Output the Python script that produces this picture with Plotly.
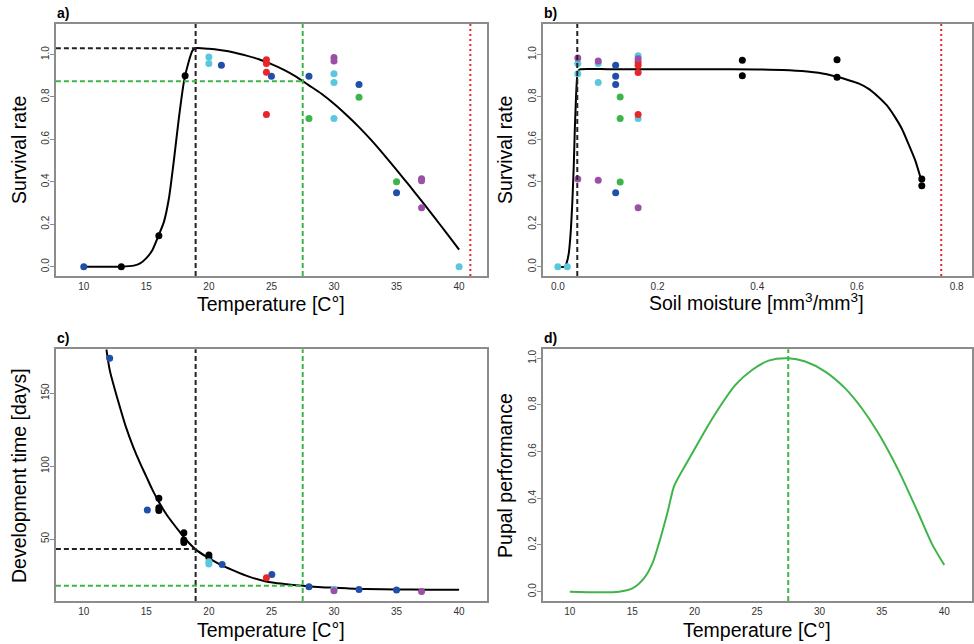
import plotly.graph_objects as go

# ---------------- DATA ----------------
COLORS = {"k": "#000000", "b": "#1F4FA8", "c": "#5AC8DC", "r": "#E8262A",
          "g": "#3DB54A", "p": "#9C4FA6"}

# Panel a: survival vs temperature
a_x = [13, 16, 18.1, 10, 21, 25, 28, 32, 35, 20, 20, 30, 30, 30, 40,
       24.6, 24.6, 24.6, 24.6, 28, 32, 35, 30, 30, 37, 37, 37]
a_y = [0, 0.146, 0.90, 0, 0.95, 0.898, 0.898, 0.859, 0.349, 0.989, 0.958, 0.909, 0.868, 0.699, 0,
       0.976, 0.958, 0.917, 0.717, 0.699, 0.799, 0.40, 0.986, 0.969, 0.414, 0.405, 0.278]
a_c = ["k", "k", "k", "b", "b", "b", "b", "b", "b", "c", "c", "c", "c", "c", "c",
       "r", "r", "r", "r", "g", "g", "g", "p", "p", "p", "p", "p"]
a_curve_x = [10, 13, 14, 14.5, 15, 15.5, 16, 16.4, 16.8, 17.2, 17.6, 18, 18.4, 18.7, 18.94,
             20, 21, 22, 23, 24, 25, 26, 27, 27.5, 28, 29, 30, 31, 32, 33, 34, 35, 36, 37, 38, 39, 40]
a_curve_y = [0, 0, 0.005, 0.015, 0.04, 0.08, 0.15, 0.21, 0.32, 0.50, 0.70, 0.87, 0.97, 1.02, 1.03,
             1.027, 1.02, 1.01, 0.995, 0.978, 0.955, 0.928, 0.895, 0.875, 0.855, 0.815, 0.768, 0.715,
             0.658, 0.595, 0.527, 0.456, 0.384, 0.31, 0.235, 0.158, 0.08]

# Panel b: survival vs soil moisture
b_x = [0.0, 0.019, 0.04, 0.04, 0.04, 0.04, 0.081, 0.081, 0.081, 0.081,
       0.116, 0.116, 0.116, 0.116, 0.125, 0.125, 0.125,
       0.161, 0.161, 0.161, 0.161, 0.161, 0.161, 0.161, 0.161,
       0.37, 0.37, 0.56, 0.56, 0.73, 0.73]
b_y = [0, 0, 0.984, 0.958, 0.91, 0.413, 0.969, 0.958, 0.868, 0.407,
       0.95, 0.898, 0.859, 0.349, 0.80, 0.699, 0.399,
       0.994, 0.98, 0.965, 0.95, 0.915, 0.717, 0.699, 0.278,
       0.973, 0.90, 0.975, 0.893, 0.413, 0.381]
b_c = ["c", "c", "p", "c", "c", "p", "p", "c", "c", "p",
       "b", "b", "b", "b", "g", "g", "g",
       "c", "p", "r", "r", "r", "r", "c", "p",
       "k", "k", "k", "k", "k", "k"]
b_curve_x = [0, 0.014, 0.018, 0.022, 0.026, 0.029, 0.032, 0.034, 0.0365, 0.0387, 0.0415, 0.045,
             0.1, 0.2, 0.3, 0.4, 0.45, 0.5, 0.523, 0.56, 0.585, 0.603, 0.625, 0.643, 0.66,
             0.676, 0.69, 0.703, 0.717, 0.73]
b_curve_y = [0, 0, 0.02, 0.064, 0.17, 0.30, 0.48, 0.644, 0.80, 0.895, 0.925, 0.931,
             0.931, 0.931, 0.931, 0.93, 0.927, 0.92, 0.914, 0.895, 0.878, 0.864, 0.836, 0.80, 0.76,
             0.706, 0.65, 0.58, 0.50, 0.40]

# Panel c: development time vs temperature
c_x = [12.07, 15.08, 21.06, 25.03, 28, 32, 35,
       16, 16, 16, 18, 18, 18, 20, 20,
       20, 20, 30, 24.6, 30, 37]
c_y = [174, 69.9, 32.6, 25.7, 17.3, 15.4, 15.0,
       77.9, 71.5, 69.5, 54.3, 49.3, 47.7, 39.0, 37.4,
       34.4, 32.8, 15.6, 23.5, 14.5, 14.1]
c_c = ["b", "b", "b", "b", "b", "b", "b",
       "k", "k", "k", "k", "k", "k", "k", "k",
       "c", "c", "c", "r", "p", "p"]
c_curve_x = [11.81, 12.07, 12.5, 12.87, 13.4, 13.94, 14.5, 15, 15.5, 16.06, 16.6, 17.13, 17.7,
             18.19, 18.94, 19.79, 20.8, 21.9, 23.2, 24.57, 26, 27.5, 29, 30, 31, 32.55, 35, 37.5, 40]
c_curve_y = [180, 166, 152, 141, 126, 113.4, 102, 92.8, 83.5, 74.5, 67, 60.8, 54.5,
             49.3, 42.9, 37.9, 33, 28.7, 24.2, 20.9, 19.2, 18.0, 17.0, 16.6, 16.2, 15.7, 15.4, 15.25, 15.2]

# Panel d: pupal performance vs temperature
d_x = [10, 13.94, 15.01, 15.94, 16.61, 17.14, 17.81, 18.34, 18.74, 19.81, 20.87, 21.94, 23.27,
       24.6, 25.93, 27.5, 28.86, 30.46, 32.06, 33.39, 34.72, 36.32, 37.92, 38.99, 40]
d_y = [0, 0, 0.014, 0.057, 0.12, 0.207, 0.336, 0.45, 0.493, 0.593, 0.693, 0.786, 0.886,
       0.95, 0.99, 1.0, 0.986, 0.943, 0.871, 0.786, 0.679, 0.521, 0.336, 0.207, 0.114]

# thresholds
T_low, T_opt, T_max = 18.94, 27.5, 40.9
S_low, S_max = 0.039, 0.769
surv_low, surv_opt = 1.03, 0.874
dev_low, dev_opt = 43.1, 18.0

x_ticks_T = [10, 15, 20, 25, 30, 35, 40]
x_ticks_S = [0.0, 0.2, 0.4, 0.6, 0.8]
y_ticks_surv = [0.0, 0.2, 0.4, 0.6, 0.8, 1.0]
y_ticks_dev = [50, 100, 150]

# ---------------- FIGURE ----------------
W, H = 974, 644
FONT = "Liberation Sans, Arial, sans-serif"
fig = go.Figure()

def px(v):
    return v / W

def py(v):
    return 1 - v / H

panels = {
    1: dict(xd=[px(56), px(488)], yd=[py(276), py(24)], xr=[7.77, 42.23], yr=[-0.044, 1.144],
            xt=x_ticks_T, yt=y_ticks_surv, yfmt=".1f", xfmt="d"),
    2: dict(xd=[px(543.7), 1.0], yd=[py(276), py(24)], xr=[-0.0306, 0.8307], yr=[-0.044, 1.144],
            xt=x_ticks_S, yt=y_ticks_surv, yfmt=".1f", xfmt=".1f"),
    3: dict(xd=[px(56), px(488)], yd=[py(601), py(349.3)], xr=[7.77, 42.23], yr=[7.5, 180.1],
            xt=x_ticks_T, yt=y_ticks_dev, yfmt="d", xfmt="d"),
    4: dict(xd=[px(543.7), 1.0], yd=[py(601), py(349.3)], xr=[7.82, 42.22], yr=[-0.04, 1.0386],
            xt=x_ticks_T, yt=y_ticks_surv, yfmt=".1f", xfmt="d"),
}

for i, p in panels.items():
    s = "" if i == 1 else str(i)
    fig.layout["xaxis" + s] = dict(domain=p["xd"], range=p["xr"], anchor="y" + s,
                                   tickvals=p["xt"], tickformat=p["xfmt"],
                                   showgrid=False, zeroline=False, showline=True, mirror=True,
                                   linecolor="#8c8c8c", linewidth=1.5, ticks="",
                                   tickfont=dict(size=10, color="#333333", family=FONT))
    fig.layout["yaxis" + s] = dict(domain=p["yd"], range=p["yr"], anchor="x" + s,
                                   tickvals=p["yt"], tickformat=p["yfmt"], tickangle=-90,
                                   showgrid=False, zeroline=False, showline=True, mirror=True,
                                   linecolor="#8c8c8c", linewidth=1.5, ticks="outside",
                                   ticklen=4, tickcolor="#8c8c8c",
                                   tickfont=dict(size=10, color="#333333", family=FONT))

try:
    fig.update_yaxes(ticklabelstandoff=-3)
except Exception:
    pass

def add_points(xs, ys, cs, ax):
    for key in ["k", "b", "c", "r", "g", "p"]:
        xx = [x for x, c in zip(xs, cs) if c == key]
        yy = [y for y, c in zip(ys, cs) if c == key]
        if xx:
            fig.add_trace(go.Scatter(x=xx, y=yy, mode="markers", xaxis="x" + ax, yaxis="y" + ax,
                                     marker=dict(color=COLORS[key], size=7), showlegend=False))

def add_curve(xs, ys, ax, color="black", smooth=0.8):
    fig.add_trace(go.Scatter(x=xs, y=ys, mode="lines", xaxis="x" + ax, yaxis="y" + ax,
                             line=dict(color=color, width=2, shape="spline", smoothing=smooth),
                             showlegend=False))

DASH = "5px,3px"
GREEN = "#3DB54A"

def vline(x, ax, color, dash=DASH):
    s = "" if ax == "" else ax
    fig.add_shape(type="line", x0=x, x1=x, y0=0, y1=1, xref="x" + s, yref="y" + s + " domain",
                  line=dict(color=color, width=2, dash=dash))

def hline(y, xend, ax, color):
    s = "" if ax == "" else ax
    xstart = fig.layout["xaxis" + s].range[0]
    fig.add_shape(type="line", x0=xstart, x1=xend, y0=y, y1=y, xref="x" + s, yref="y" + s,
                  line=dict(color=color, width=2, dash=DASH))

# panel a
add_curve(a_curve_x, a_curve_y, "", smooth=0.6)
add_points(a_x, a_y, a_c, "")
vline(T_low, "", "#222222")
vline(T_opt, "", GREEN)
vline(T_max, "", "#E8262A", dash="2px,3px")
hline(surv_low, T_low, "", "#222222")
hline(surv_opt, T_opt, "", GREEN)

# panel b
add_curve(b_curve_x, b_curve_y, "2", smooth=0.5)
add_points(b_x, b_y, b_c, "2")
vline(S_low, "2", "#222222")
vline(S_max, "2", "#E8262A", dash="2px,3px")

# panel c
add_curve(c_curve_x, c_curve_y, "3")
add_points(c_x, c_y, c_c, "3")
vline(T_low, "3", "#222222")
vline(T_opt, "3", GREEN)
hline(dev_low, T_low, "3", "#222222")
hline(dev_opt, T_opt, "3", GREEN)

# panel d
add_curve(d_x, d_y, "4", color=GREEN, smooth=0.8)
vline(T_opt, "4", GREEN)

# annotations: panel labels and axis titles
def ann(text, x, y, size, angle=0, bold=False, xanchor="center", yanchor="middle"):
    fig.add_annotation(text=("<b>%s</b>" % text) if bold else text, x=px(x), y=py(y),
                       xref="paper", yref="paper", showarrow=False, textangle=angle,
                       xanchor=xanchor, yanchor=yanchor,
                       font=dict(size=size, color="black", family=FONT))

ann("a)", 55, 13, 14, bold=True, xanchor="left")
ann("b)", 543, 13, 14, bold=True, xanchor="left")
ann("c)", 55, 338, 14, bold=True, xanchor="left")
ann("d)", 543, 338, 14, bold=True, xanchor="left")

TS = 19.5
ann("Survival rate", 19, 150, TS, angle=-90)
ann("Survival rate", 506, 150, TS, angle=-90)
ann("Development time [days]", 19, 475, TS, angle=-90)
ann("Pupal performance", 506, 475, TS, angle=-90)
ann("Temperature [C°]", 272, 304, TS)
ann("Soil moisture [mm<sup>3</sup>/mm<sup>3</sup>]", 758, 302, TS)
ann("Temperature [C°]", 272, 630, TS)
ann("Temperature [C°]", 759, 630, TS)

fig.update_layout(width=W, height=H, margin=dict(l=0, r=0, t=0, b=0),
                  paper_bgcolor="white", plot_bgcolor="white", showlegend=False,
                  font=dict(family=FONT))

fig.write_html("out.html")
